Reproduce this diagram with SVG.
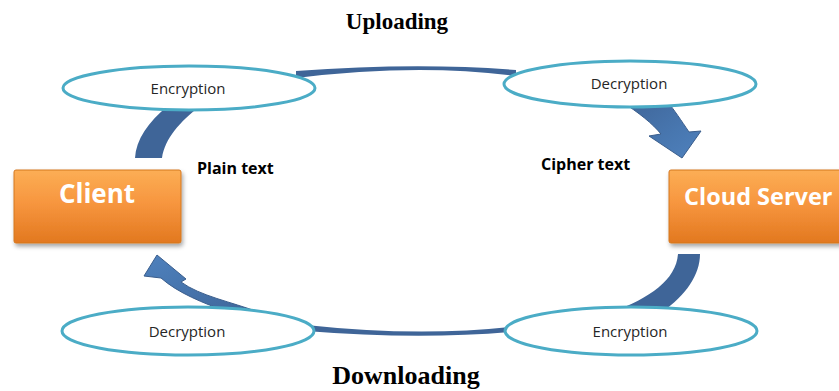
<svg xmlns="http://www.w3.org/2000/svg" width="839" height="391" viewBox="0 0 839 391">
  <style>
    .band { fill: #3f6598; }
    .head { stroke: #3a5d8c; stroke-width: 1; stroke-linejoin: miter; }
    .oval { fill: #ffffff; stroke: #4bacc6; stroke-width: 3; }
    .oval-text { font-family: "Open Sans", "Noto Sans", sans-serif; font-size: 15px; fill: #262626; text-anchor: middle; }
    .box { fill: url(#boxFill); stroke: #d4781f; stroke-width: 1; filter: url(#boxShadow); }
    .box-text { font-family: "Open Sans", "Noto Sans", sans-serif; font-weight: bold; fill: #ffffff; }
    .side-text { font-family: "Open Sans", "Noto Sans", sans-serif; font-weight: bold; font-size: 16px; fill: #000000; }
    .title { font-family: "Liberation Serif", "Times New Roman", serif; font-weight: bold; fill: #000000; text-anchor: middle; }
  </style>
  <defs>
    <linearGradient id="boxFill" x1="0" y1="0" x2="0" y2="1">
      <stop offset="0" stop-color="#fcae55"/>
      <stop offset="0.45" stop-color="#f7963f"/>
      <stop offset="1" stop-color="#e2781f"/>
    </linearGradient>
    <linearGradient id="headDown" x1="0" y1="0" x2="1" y2="1">
      <stop offset="0" stop-color="#3f6598"/>
      <stop offset="0.6" stop-color="#4877b0"/>
      <stop offset="1" stop-color="#4f81bd"/>
    </linearGradient>
    <linearGradient id="headUp" x1="1" y1="1" x2="0" y2="0">
      <stop offset="0" stop-color="#3f6598"/>
      <stop offset="0.6" stop-color="#4877b0"/>
      <stop offset="1" stop-color="#4f81bd"/>
    </linearGradient>
    <filter id="boxShadow" x="-10%" y="-10%" width="125%" height="135%">
      <feDropShadow dx="1.5" dy="3" stdDeviation="2" flood-color="#000000" flood-opacity="0.35"/>
    </filter>
  </defs>

  <!-- connectors: the curved arrows of the upload / download loop -->
  <g id="connectors">
    <!-- upload: client up into the encryption step -->
    <path class="band" d="M135,158 C136,140 148,122 168,106 L200,106 C180,122 165,138 162,158 Z"/>
    <!-- upload: encryption to decryption -->
    <path class="band" d="M296,71 Q417,62 516,70 L516,76 Q417,63 296,78 Z"/>
    <!-- upload: decryption down to the cloud server -->
    <path class="head" fill="url(#headDown)" d="M622,102 C638,112 653,124 661,134 L649,136 L682,158 L701,131 L689,132 C681,120 674,110 668,102 Z"/>
    <!-- download: cloud server down into the encryption step -->
    <path class="band" d="M678,254 C676,280 650,298 612,312 L662,312 C686,295 700,275 700,254 Z"/>
    <!-- download: encryption to decryption -->
    <path class="band" d="M306,325 Q417,337 510,327 L510,332 Q417,340 306,331 Z"/>
    <!-- download: decryption up to the client -->
    <path class="head" fill="url(#headUp)" d="M144,276 L157,255 L186,279 L181,282 C200,296 232,302 258,312 L228,312 C203,303 178,293 161,278 Z"/>
  </g>

  <g id="client">
    <rect class="box" x="14" y="170" width="167" height="73" rx="2"/>
    <text class="box-text" x="97" y="203" font-size="26" text-anchor="middle">Client</text>
  </g>

  <g id="cloud-server">
    <rect class="box" x="669" y="170" width="185" height="73" rx="2"/>
    <text class="box-text" x="684" y="205" font-size="23.5">Cloud Server</text>
  </g>

  <g id="upload-encryption">
    <ellipse class="oval" cx="189" cy="88" rx="126" ry="22"/>
    <text class="oval-text" x="188" y="94">Encryption</text>
  </g>

  <g id="upload-decryption">
    <ellipse class="oval" cx="630" cy="84" rx="126" ry="23"/>
    <text class="oval-text" x="629" y="89">Decryption</text>
  </g>

  <g id="download-decryption">
    <ellipse class="oval" cx="188" cy="331" rx="126" ry="24"/>
    <text class="oval-text" x="187" y="337">Decryption</text>
  </g>

  <g id="download-encryption">
    <ellipse class="oval" cx="631" cy="331" rx="126" ry="24"/>
    <text class="oval-text" x="630" y="337">Encryption</text>
  </g>

  <!-- labels -->
  <text class="side-text" x="197" y="174">Plain text</text>
  <text class="side-text" x="541" y="170">Cipher text</text>
  <text class="title" x="397" y="29" font-size="23">Uploading</text>
  <text class="title" x="406" y="384" font-size="26">Downloading</text>
</svg>
